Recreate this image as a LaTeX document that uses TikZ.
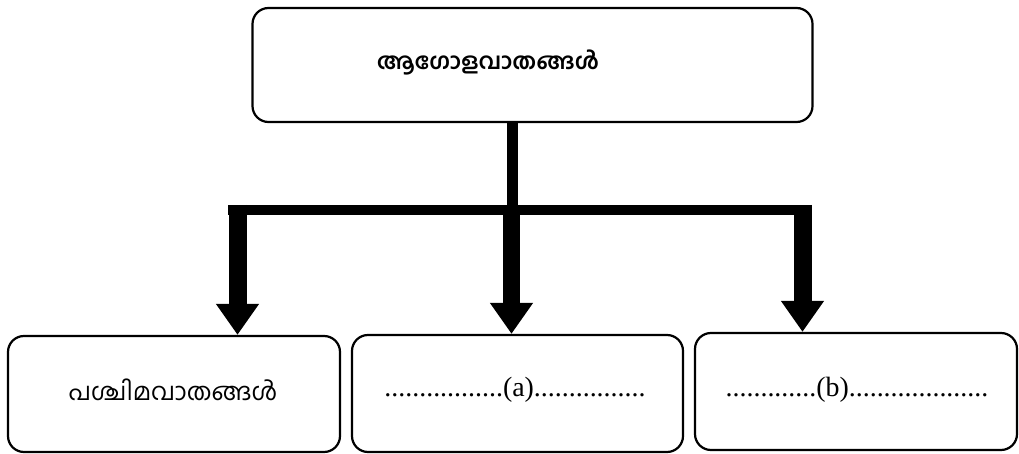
\documentclass[tikz,border=0pt]{standalone}
\usepackage{fontspec}
\setmainfont{Liberation Serif}
\newfontfamily\mal[Script=Malayalam]{Hind Kochi}
\usetikzlibrary{arrows.meta}
\tikzset{
  box/.style={draw=black, line width=2.2bp, rounded corners=16bp, inner sep=0pt, fill=white},
  maltext/.style={font=\mal\fontsize{24.5}{28}\selectfont, inner sep=0pt},
  dottext/.style={font=\fontsize{28}{32}\selectfont, inner sep=0pt},
  bar/.style={line width=10bp, black},
  stem/.style={line width=11bp, black},
  shaft/.style={line width=18bp, black, -{Triangle[width=41bp,length=31bp]}},
}
\begin{document}
\begin{tikzpicture}[x=1bp,y=-1bp]
\path[fill=white] (0,0) rectangle (1019,454);
\useasboundingbox (0,0) rectangle (1019,454);
% boxes
\node[box, minimum width=560bp, minimum height=114bp] (top) at (532.5,65) {};
\node[maltext, font=\mal\bfseries\fontsize{22.8}{26}\selectfont] (toptext) at (488,62) {ആഗോളവാതങ്ങൾ};
\node[box, minimum width=332bp, minimum height=116bp] (b1) at (174,394) {};
\node[box, minimum width=331bp, minimum height=117bp] (b2) at (517.5,393.5) {};
\node[box, minimum width=322bp, minimum height=117bp] (b3) at (856,391.5) {};
\node[maltext] (t1) at (173,390) {പശ്ചിമവാതങ്ങൾ};
\node[dottext] (t2) at (515,390) {.................(a)................};
\node[dottext] (t3) at (857,390) {.............(b)....................};
% connectors
\coordinate (jm) at (512.5,210);
\coordinate (jl) at (228,210);
\coordinate (jr) at (812,210);
\coordinate (sl) at (237.5,205);
\coordinate (sm) at (511.5,205);
\coordinate (sr) at (802.5,205);
\draw[stem] (top.south -| jm) -- (jm);
\draw[bar] (jl) -- (jr);
\draw[shaft] (sl) -- (sl |- b1.north);
\draw[shaft, line width=17bp] (sm) -- (sm |- b2.north);
\draw[shaft] (sr) -- (sr |- b3.north);
\end{tikzpicture}
\end{document}
